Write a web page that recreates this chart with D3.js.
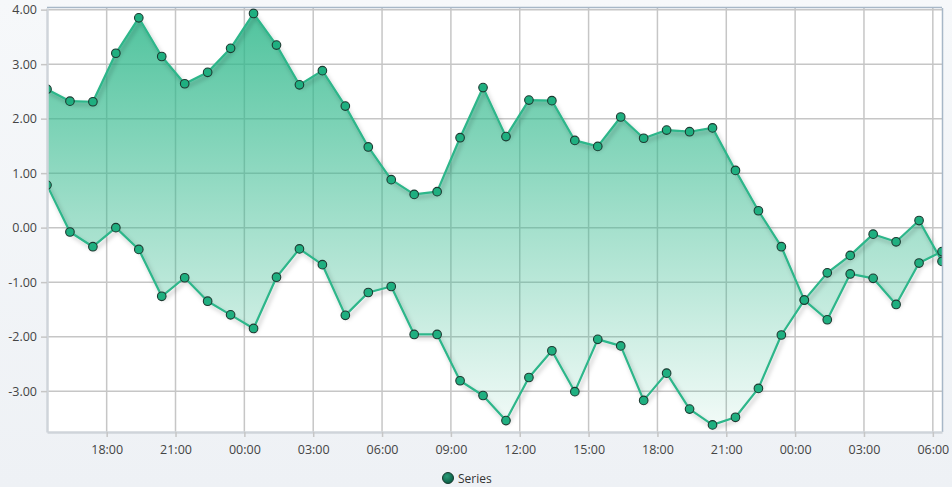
<!DOCTYPE html>
<html>
<head>
<meta charset="utf-8">
<script src="https://cdn.jsdelivr.net/npm/d3@7"></script>
<style>
  html, body { margin: 0; padding: 0; }
  body { width: 952px; height: 487px; overflow: hidden;
         background: linear-gradient(#f6f8fa, #eef1f5); }
  text { font-family: "Open Sans", "Noto Sans", sans-serif; }
</style>
</head>
<body>
<svg id="chart"></svg>
<script>
// hourly samples, 15:24 on day one to 06:24 two days later
const times = [
  "2024-01-01T15:24", "2024-01-01T16:24", "2024-01-01T17:24", "2024-01-01T18:24",
  "2024-01-01T19:24", "2024-01-01T20:24", "2024-01-01T21:24", "2024-01-01T22:24",
  "2024-01-01T23:24", "2024-01-02T00:24", "2024-01-02T01:24", "2024-01-02T02:24",
  "2024-01-02T03:24", "2024-01-02T04:24", "2024-01-02T05:24", "2024-01-02T06:24",
  "2024-01-02T07:24", "2024-01-02T08:24", "2024-01-02T09:24", "2024-01-02T10:24",
  "2024-01-02T11:24", "2024-01-02T12:24", "2024-01-02T13:24", "2024-01-02T14:24",
  "2024-01-02T15:24", "2024-01-02T16:24", "2024-01-02T17:24", "2024-01-02T18:24",
  "2024-01-02T19:24", "2024-01-02T20:24", "2024-01-02T21:24", "2024-01-02T22:24",
  "2024-01-02T23:24", "2024-01-03T00:24", "2024-01-03T01:24", "2024-01-03T02:24",
  "2024-01-03T03:24", "2024-01-03T04:24", "2024-01-03T05:24", "2024-01-03T06:24"
];

const highValues = [
  2.54, 2.32, 2.31, 3.20, 3.85, 3.14, 2.64, 2.85, 3.29, 3.93,
  3.35, 2.62, 2.88, 2.23, 1.48, 0.88, 0.61, 0.66, 1.65, 2.57,
  1.67, 2.34, 2.33, 1.60, 1.49, 2.03, 1.64, 1.79, 1.76, 1.83,
  1.05, 0.31, -0.35, -1.33, -1.69, -0.85, -0.93, -1.41, -0.65, -0.44
];

const lowValues = [
  0.78, -0.08, -0.35, 0.00, -0.40, -1.26, -0.92, -1.35, -1.60, -1.85,
  -0.91, -0.39, -0.68, -1.61, -1.19, -1.08, -1.96, -1.96, -2.81, -3.08,
  -3.54, -2.75, -2.26, -3.01, -2.05, -2.17, -3.17, -2.67, -3.33, -3.62,
  -3.48, -2.95, -1.97, -1.33, -0.83, -0.51, -0.12, -0.26, 0.13, -0.62
];

const yTicks = [-3, -2, -1, 0, 1, 2, 3, 4];
const yDomain = [-3.75, 4.03];
const seriesName = "Series";

const width = 952, height = 487;
const margin = { top: 8, right: 10, bottom: 55, left: 47 };

const parseTime = d3.timeParse("%Y-%m-%dT%H:%M");
const data = times.map((t, i) => ({ t: parseTime(t), hi: highValues[i], lo: lowValues[i] }));

const svg = d3.select("#chart").attr("width", width).attr("height", height);

const x = d3.scaleTime()
    .domain(d3.extent(data, d => d.t))
    .range([margin.left, width - margin.right]);
const y = d3.scaleLinear()
    .domain(yDomain)
    .range([height - margin.bottom, margin.top]);

const defs = svg.append("defs");
const grad = defs.append("linearGradient")
    .attr("id", "areaFill")
    .attr("gradientUnits", "userSpaceOnUse")
    .attr("x1", 0).attr("x2", 0)
    .attr("y1", y.range()[1]).attr("y2", y.range()[0]);
grad.append("stop").attr("offset", "0%").attr("stop-color", "#2fb88b").attr("stop-opacity", 0.85);
grad.append("stop").attr("offset", "100%").attr("stop-color", "#2fb88b").attr("stop-opacity", 0.05);

const legendGrad = defs.append("radialGradient").attr("id", "legendFill")
    .attr("cx", "40%").attr("cy", "35%").attr("r", "65%");
legendGrad.append("stop").attr("offset", "0%").attr("stop-color", "#2a9c78");
legendGrad.append("stop").attr("offset", "100%").attr("stop-color", "#0b5c44");

const shadow = defs.append("filter").attr("id", "shadow")
    .attr("x", "-10%").attr("y", "-10%").attr("width", "120%").attr("height", "120%");
shadow.append("feDropShadow")
    .attr("dx", 2).attr("dy", 3).attr("stdDeviation", 2)
    .attr("flood-color", "#000").attr("flood-opacity", 0.25);

defs.append("clipPath").attr("id", "plotClip")
  .append("rect")
    .attr("x", margin.left).attr("y", margin.top)
    .attr("width", width - margin.left - margin.right)
    .attr("height", height - margin.top - margin.bottom);

// plot background
svg.append("rect")
    .attr("x", margin.left).attr("y", margin.top)
    .attr("width", width - margin.left - margin.right)
    .attr("height", height - margin.top - margin.bottom)
    .attr("fill", "#fff");

const xTicks = x.ticks(d3.timeHour.every(3));

// grid
const grid = svg.append("g").attr("stroke", "#c6c6c6").attr("stroke-width", 1.5);
grid.selectAll("line.h").data(yTicks).join("line")
    .attr("class", "h")
    .attr("x1", margin.left).attr("x2", width - margin.right)
    .attr("y1", d => y(d)).attr("y2", d => y(d));
grid.selectAll("line.v").data(xTicks).join("line")
    .attr("class", "v")
    .attr("x1", d => x(d)).attr("x2", d => x(d))
    .attr("y1", margin.top).attr("y2", height - margin.bottom);

// range area
const area = d3.area()
    .x(d => x(d.t))
    .y0(d => y(d.lo))
    .y1(d => y(d.hi));

const plot = svg.append("g").attr("clip-path", "url(#plotClip)");

plot.append("path")
    .datum(data)
    .attr("fill", "url(#areaFill)")
    .attr("d", area);

const lines = plot.append("g").attr("filter", "url(#shadow)");
["hi", "lo"].forEach(key => {
  lines.append("path")
      .datum(data)
      .attr("fill", "none")
      .attr("stroke", "#2db68a")
      .attr("stroke-width", 2.2)
      .attr("stroke-linejoin", "round")
      .attr("d", d3.line().x(d => x(d.t)).y(d => y(d[key])));
});

const points = svg.append("g").attr("clip-path", "url(#plotClip)");
["hi", "lo"].forEach(key => {
  points.selectAll("circle." + key).data(data).join("circle")
      .attr("class", key)
      .attr("cx", d => x(d.t))
      .attr("cy", d => y(d[key]))
      .attr("r", 4.3)
      .attr("fill", "#1faf80")
      .attr("stroke", "#1c3a31")
      .attr("stroke-width", 1.1);
});

// frame
svg.append("line")
    .attr("x1", margin.left).attr("x2", width - margin.right)
    .attr("y1", margin.top - 0.5).attr("y2", margin.top - 0.5)
    .attr("stroke", "#a7b7c7").attr("stroke-width", 1.5);
svg.append("line")
    .attr("x1", width - margin.right + 0.5).attr("x2", width - margin.right + 0.5)
    .attr("y1", margin.top).attr("y2", height - margin.bottom)
    .attr("stroke", "#a7b7c7").attr("stroke-width", 1.5);

// axes
const xAxis = svg.append("g")
    .attr("transform", `translate(0,${height - margin.bottom})`)
    .call(d3.axisBottom(x).tickValues(xTicks).tickFormat(d3.timeFormat("%H:%M"))
      .tickSize(5).tickSizeOuter(0));
const yAxis = svg.append("g")
    .attr("transform", `translate(${margin.left},0)`)
    .call(d3.axisLeft(y).tickValues(yTicks).tickFormat(d => d.toFixed(2))
      .tickSize(6).tickSizeOuter(0).tickPadding(4));

[xAxis, yAxis].forEach(g => {
  g.select(".domain").attr("stroke", "#cfd4da").attr("stroke-width", 2.5);
  g.selectAll(".tick line").attr("stroke", "#c6c6c6").attr("stroke-width", 1.5);
  g.selectAll(".tick text").attr("fill", "#444").attr("font-size", 12.5)
      .attr("font-family", "'Open Sans', 'Noto Sans', sans-serif");
});
xAxis.selectAll(".tick text").attr("dy", "1.1em");

// legend
const legend = svg.append("g").attr("transform", "translate(448,478)");
legend.append("circle").attr("r", 5.5)
    .attr("fill", "url(#legendFill)").attr("stroke", "#173a2f").attr("stroke-width", 1);
legend.append("text").attr("x", 10).attr("y", 4.5)
    .attr("font-size", 12).attr("fill", "#333").text(seriesName);
</script>
</body>
</html>
